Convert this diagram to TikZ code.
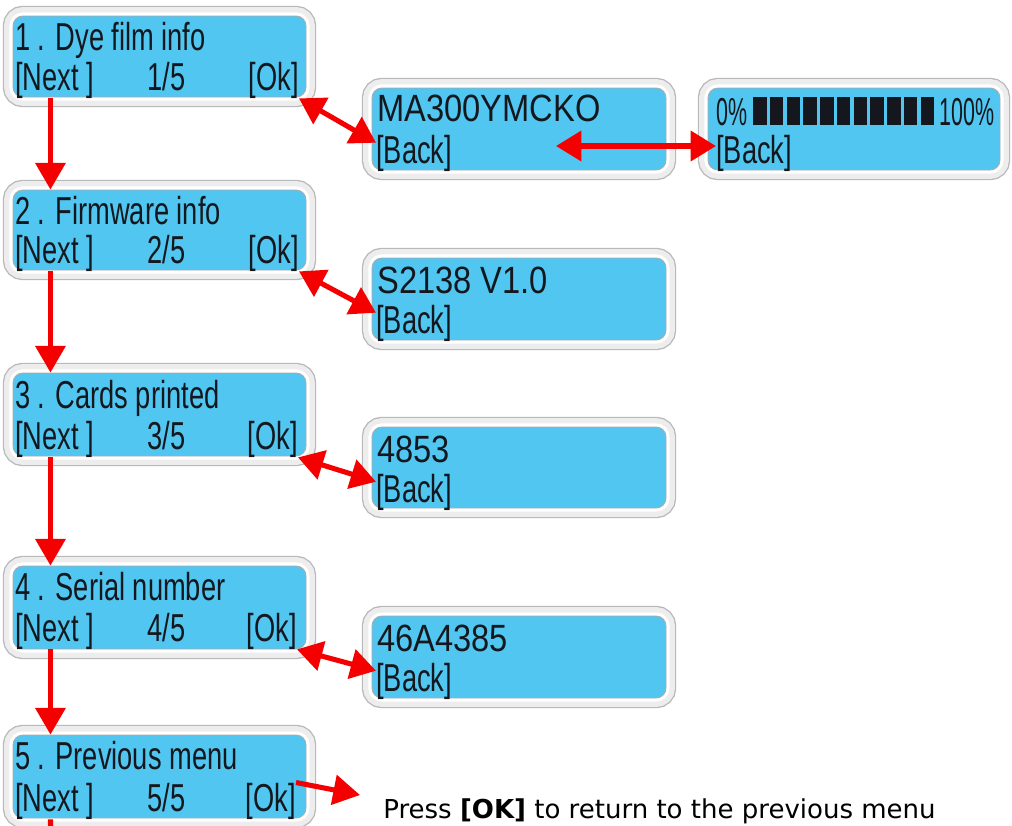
\documentclass[tikz,border=0pt]{standalone}
\usepackage{fontspec}
\usetikzlibrary{arrows.meta,fit}
\newfontfamily\lcdfont[FakeStretch=0.7]{Liberation Sans}
\newfontfamily\lcdslim[FakeStretch=0.55]{Liberation Sans}
\newfontfamily\valfont[FakeStretch=0.86]{Liberation Sans}
\newfontfamily\notefont{DejaVu Sans}
\definecolor{lcdBlue}{RGB}{80,198,240}
\definecolor{lcdInk}{RGB}{20,24,30}
\definecolor{mnRed}{RGB}{245,0,0}

\tikzset{
  lcd/.style={inner sep=0pt, rounded corners=7pt, fill=lcdBlue, draw=gray!65, line width=0.6pt,
    preaction={draw=gray!55, line width=14.5pt},
    preaction={draw=gray!14, line width=12.6pt},
    preaction={draw=white, line width=5pt}},
  lcdtxt/.style={inner sep=0pt, text=lcdInk, font=\lcdfont\fontsize{27.7}{30}\selectfont},
  slimtxt/.style={inner sep=0pt, text=lcdInk, font=\lcdslim\fontsize{27.7}{30}\selectfont},
  valtxt/.style={inner sep=0pt, anchor=base west, text=lcdInk, font=\valfont\fontsize{27}{30}\selectfont},
  flow/.style={draw=mnRed, line width=3.6pt, -{Triangle[length=19pt,width=21pt]}},
  twoway/.style={draw=mnRed, line width=3.6pt, {Triangle[length=18pt,width=21pt]}-{Triangle[length=18pt,width=21pt]}},
}

\begin{document}
\begin{tikzpicture}[x=0.025cm, y=-0.025cm]
  \useasboundingbox (0,0) rectangle (1012,825);
  \clip (0,0) rectangle (1012,825);

  % Menu screens
  \node[lcd, fit={(13,16) (306,97)}] (p1) {};
  \node[lcd, fit={(13,190) (306,270)}] (p2) {};
  \node[lcd, fit={(13,373) (306,456)}] (p3) {};
  \node[lcd, fit={(13,566) (306,649)}] (p4) {};
  \node[lcd, fit={(13,735) (306,818)}] (p5) {};

  % Sub screens
  \node[lcd, fit={(372,88) (666,170)}] (r1) {};
  \node[lcd, fit={(708,88) (1000,170)}] (q1) {};
  \node[lcd, fit={(372,258) (666,340)}] (r2) {};
  \node[lcd, fit={(372,427) (666,508)}] (r3) {};
  \node[lcd, fit={(372,616) (666,698)}] (r4) {};

  % Menu texts
  \node[lcdtxt, anchor=base west] (p1t) at (15,50) {1 . Dye film info};
  \node[lcdtxt, anchor=base west] (p1n) at (15,90) {[Next ]};
  \node[lcdtxt, anchor=base west] (p1c) at (147,90) {1/5};
  \node[lcdtxt, anchor=base east] (p1k) at (299,90) {[Ok]};

  \node[lcdtxt, anchor=base west] (p2t) at (15,224) {2 . Firmware info};
  \node[lcdtxt, anchor=base west] (p2n) at (15,263) {[Next ]};
  \node[lcdtxt, anchor=base west] (p2c) at (147,263) {2/5};
  \node[lcdtxt, anchor=base east] (p2k) at (299,263) {[Ok]};

  \node[lcdtxt, anchor=base west] (p3t) at (15,408) {3 . Cards printed};
  \node[lcdtxt, anchor=base west] (p3n) at (15,449) {[Next ]};
  \node[lcdtxt, anchor=base west] (p3c) at (147,449) {3/5};
  \node[lcdtxt, anchor=base east] (p3k) at (298,449) {[Ok]};

  \node[lcdtxt, anchor=base west] (p4t) at (15,600) {4 . Serial number};
  \node[lcdtxt, anchor=base west] (p4n) at (15,641) {[Next ]};
  \node[lcdtxt, anchor=base west] (p4c) at (147,641) {4/5};
  \node[lcdtxt, anchor=base east] (p4k) at (297,641) {[Ok]};

  \node[lcdtxt, anchor=base west] (p5t) at (15,769) {5 . Previous menu};
  \node[lcdtxt, anchor=base west] (p5n) at (15,811) {[Next ]};
  \node[lcdtxt, anchor=base west] (p5c) at (147,811) {5/5};
  \node[lcdtxt, anchor=base east] (p5k) at (296,811) {[Ok]};

  % Sub screen texts
  \node[valtxt] (r1v) at (377,121) {MA300YMCKO};
  \node[lcdtxt, anchor=base west] (r1b) at (376,163) {[Back]};
  \node[valtxt] (r2v) at (377,293) {S2138 V1.0};
  \node[lcdtxt, anchor=base west] (r2b) at (376,333) {[Back]};
  \node[valtxt] (r3v) at (377,462) {4853};
  \node[lcdtxt, anchor=base west] (r3b) at (376,502) {[Back]};
  \node[valtxt] (r4v) at (377,651) {46A4385};
  \node[lcdtxt, anchor=base west] (r4b) at (376,691) {[Back]};

  % Progress bar
  \node[slimtxt, anchor=base west] (q1a) at (716,125) {0\%};
  \node[slimtxt, anchor=base east] (q1z) at (995,125) {100\%};
  \foreach \i in {0,...,10}
    \fill[lcdInk] (753+\i*16.75,97) rectangle ++(13.5,28);
  \node[lcdtxt, anchor=base west] (q1b) at (716,163) {[Back]};

  \node[inner sep=0pt, anchor=base west, font=\notefont\fontsize{18.5}{22}\selectfont] (note) at (383,818)
    {Press \textbf{[OK]} to return to the previous menu};

  % Arrows
  \draw[flow] ([xshift=-3pt]p1n.south) -- ([xshift=-3pt]p1n.south |- p2.north);
  \draw[flow] ([xshift=-3pt]p2n.south) -- ([xshift=-3pt]p2n.south |- p3.north);
  \draw[flow] ([xshift=-3pt]p3n.south) -- ([xshift=-3pt]p3n.south |- p4.north);
  \draw[flow] ([xshift=-3pt]p4n.south) -- ([xshift=-3pt]p4n.south |- p5.north);
  \coordinate (tail) at (51,860);
  \draw[flow] ([xshift=-3pt]p5n.south) -- (tail);

  \draw[twoway] (p1k.south east) -- (r1b.165);
  \draw[twoway] (p2k.south east) -- (r2b.165);
  \draw[twoway] (p3k.south east) -- (r3b.165);
  \draw[twoway] (p4k.south east) -- (r4b.165);
  \coordinate (r1m) at (556,146);
  \draw[twoway] (r1m) -- (r1m -| q1b.west);
  \coordinate (back) at (360,795);
  \draw[flow] (p5k.north east) -- (back);
\end{tikzpicture}
\end{document}
